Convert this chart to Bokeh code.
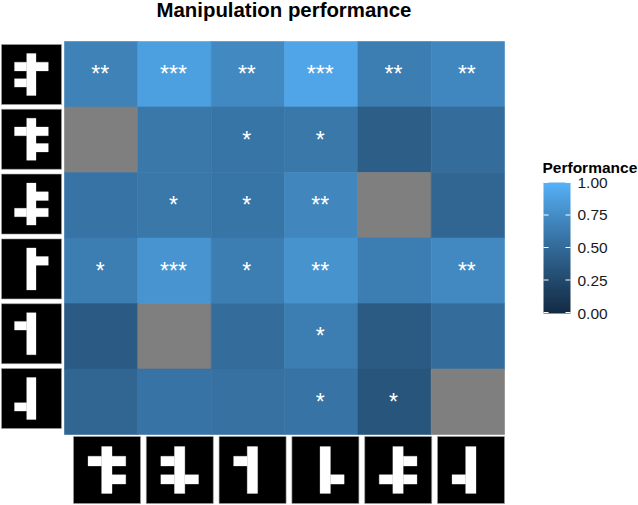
from bokeh.plotting import figure
from bokeh.embed import file_html
from bokeh.resources import INLINE
from bokeh.models import (ColumnDataSource, LinearColorMapper, ColorBar, FixedTicker,
                          NumeralTickFormatter, Range1d)
from bokeh.transform import transform
from bokeh.core.properties import value

nan = float("nan")

title = "Manipulation performance"
legend_title = "Performance"
legend_ticks = [0.0, 0.25, 0.5, 0.75, 1.0]

perf_r1 = [0.67, 0.88, 0.72, 0.92, 0.64, 0.71]
perf_r2 = [nan, 0.60, 0.58, 0.60, 0.41, 0.52]
perf_r3 = [0.57, 0.60, 0.58, 0.70, nan, 0.47]
perf_r4 = [0.64, 0.80, 0.64, 0.79, 0.64, 0.72]
perf_r5 = [0.39, nan, 0.52, 0.64, 0.38, 0.52]
perf_r6 = [0.47, 0.57, 0.55, 0.57, 0.34, nan]
perf = [perf_r1, perf_r2, perf_r3, perf_r4, perf_r5, perf_r6]

stars_r1 = ["**", "***", "**", "***", "**", "**"]
stars_r2 = ["", "", "*", "*", "", ""]
stars_r3 = ["", "*", "*", "**", "", ""]
stars_r4 = ["*", "***", "*", "**", "", "**"]
stars_r5 = ["", "", "", "*", "", ""]
stars_r6 = ["", "", "", "*", "*", ""]
stars = [stars_r1, stars_r2, stars_r3, stars_r4, stars_r5, stars_r6]

# glyph icons: (upper arm, lower arm), each one of "", "L", "R", "LR"
left_icons = [("LR", "L"), ("LR", "R"), ("R", "LR"), ("R", ""), ("L", ""), ("", "L")]
bottom_icons = [("LR", "R"), ("L", "LR"), ("L", ""), ("", "R"), ("R", "LR"), ("", "L")]

# ---- layout (page pixels)
W, H = 638, 505
SHIFT = 7            # figure sits this far above the page top, so the title can rise
TOP = 33             # frame top inside the figure
X0, X1, Y0, Y1 = 64.0, 504.0, 41.0, 434.0
CW, CH = (X1 - X0) / 6, (Y1 - Y0) / 6
def ux(px): return (px - X0) / CW
def uy(py): return (py - Y0) / CH


def lab_pal(c0, c1, n=256):
    def to_lab(c):
        rgb = [int(c[i:i + 2], 16) / 255 for i in (1, 3, 5)]
        r, g, b = [((v + .055) / 1.055) ** 2.4 if v > .04045 else v / 12.92 for v in rgb]
        X = (.4124 * r + .3576 * g + .1805 * b) / .95047
        Y = .2126 * r + .7152 * g + .0722 * b
        Z = (.0193 * r + .1192 * g + .9505 * b) / 1.08883
        f = lambda t: t ** (1 / 3) if t > .008856 else 7.787 * t + 16 / 116
        return 116 * f(Y) - 16, 500 * (f(X) - f(Y)), 200 * (f(Y) - f(Z))
    def to_hex(L, a, b):
        fy = (L + 16) / 116
        fx, fz = fy + a / 500, fy - b / 200
        g = lambda t: t ** 3 if t ** 3 > .008856 else (t - 16 / 116) / 7.787
        X, Y, Z = g(fx) * .95047, g(fy), g(fz) * 1.08883
        r = 3.2406 * X - 1.5372 * Y - .4986 * Z
        gg = -.9689 * X + 1.8758 * Y + .0415 * Z
        bb = .0557 * X - .2040 * Y + 1.0570 * Z
        out = []
        for v in (r, gg, bb):
            v = max(0, min(1, v))
            v = 1.055 * v ** (1 / 2.4) - .055 if v > .0031308 else 12.92 * v
            out.append(round(v * 255))
        return "#%02x%02x%02x" % tuple(out)
    A, B = to_lab(c0), to_lab(c1)
    return [to_hex(*[A[k] + (B[k] - A[k]) * i / (n - 1) for k in range(3)]) for i in range(n)]


palette = lab_pal("#132B43", "#56B1F7")
mapper = LinearColorMapper(palette=palette, low=0, high=1, nan_color="#7F7F7F")

p = figure(width=W, height=H + SHIFT, output_backend="svg", toolbar_location=None,
           x_range=Range1d(ux(0), ux(W)), y_range=Range1d(uy(H), uy(TOP - SHIFT)),
           min_border_left=0, min_border_right=0, min_border_bottom=0, min_border_top=TOP,
           x_axis_type=None, y_axis_type=None, title=title, margin=(-SHIFT, 0, 0, 0))
p.grid.visible = False
p.outline_line_color = None
p.background_fill_color = "white"
p.border_fill_color = "white"
p.title.align = "left"
p.title.offset = 156
p.title.standoff = 8
p.title.vertical_align = "top"
p.title.text_font = "Liberation Sans"
p.title.text_font_style = "bold"
p.title.text_font_size = "20.4px"
p.title.text_color = "#000000"

xs, ys, vs, ss = [], [], [], []
for r in range(6):
    for c in range(6):
        xs.append(c + .5); ys.append(r + .5); vs.append(perf[r][c]); ss.append(stars[r][c])
src = ColumnDataSource(dict(x=xs, y=ys, v=vs, s=ss))
p.rect("x", "y", width=1, height=1, source=src, fill_color=transform("v", mapper),
       line_color=transform("v", mapper), line_width=0.6)
p.text("x", "y", text="s", source=src, text_color="white", text_align="center",
       text_baseline="middle", text_font=value("Liberation Sans"), text_font_size="23px",
       x_offset=-1)


def icon_rects(arms, cx, cy, size):
    u, l = arms
    bl, bt, br, bb = [], [], [], []
    def add(a, b, c, d):
        bl.append(cx + (a - .5) * size); br.append(cx + (c - .5) * size)
        bt.append(cy + (b - .5) * size); bb.append(cy + (d - .5) * size)
    add(.42, .15, .575, .85)
    for code, (t, b_) in ((u, (.295, .44)), (l, (.57, .71))):
        if "L" in code:
            add(.217, t, .42, b_)
        if "R" in code:
            add(.575, t, .78, b_)
    return bl, bt, br, bb


def draw_icons(icons, centers):
    blk = dict(l=[], r=[], t=[], b=[])
    wht = dict(l=[], r=[], t=[], b=[])
    for arms, (cx, cy, s) in zip(icons, centers):
        blk["l"].append(ux(cx - s / 2)); blk["r"].append(ux(cx + s / 2))
        blk["t"].append(uy(cy - s / 2)); blk["b"].append(uy(cy + s / 2))
        a, b, c, d = icon_rects(arms, cx, cy, s)
        wht["l"] += [ux(v) for v in a]; wht["t"] += [uy(v) for v in b]
        wht["r"] += [ux(v) for v in c]; wht["b"] += [uy(v) for v in d]
    p.quad(left="l", right="r", top="t", bottom="b", source=ColumnDataSource(blk),
           fill_color="black", line_color="#a0a0a0", line_width=0.6)
    p.quad(left="l", right="r", top="t", bottom="b", source=ColumnDataSource(wht),
           fill_color="white", line_color="white", line_width=0.3)


draw_icons(left_icons, [(31, 74 + 64.8 * i, 60) for i in range(6)])
draw_icons(bottom_icons, [(106.5 + 72.8 * i, 469.5, 67) for i in range(6)])

cb = ColorBar(color_mapper=mapper, ticker=FixedTicker(ticks=legend_ticks),
              formatter=NumeralTickFormatter(format="0.00"),
              major_label_text_font="Liberation Sans", major_label_text_font_size="15.5px",
              major_label_text_color="#1a1a1a", label_standoff=7,
              major_tick_line_color=None, minor_tick_line_color=None, bar_line_color=None,
              background_fill_color=None, border_line_color=None,
              width=27, height=131, padding=0, margin=0,
              location=(543, H - 313))
p.add_layout(cb, "center")
# ggplot-style white ticks on both sides of the bar
tk_y = [uy(312 - 130 * v) for v in legend_ticks]
p.segment(x0=[ux(543)] * 5, x1=[ux(548)] * 5, y0=tk_y, y1=tk_y, line_color="white",
          line_width=1, level="overlay")
p.segment(x0=[ux(565)] * 5, x1=[ux(570)] * 5, y0=tk_y, y1=tk_y, line_color="white",
          line_width=1, level="overlay")
p.text(x=[ux(542)], y=[uy(167)], text=[legend_title], text_color="#000000",
       text_align="left", text_baseline="middle", text_font=value("Liberation Sans"),
       text_font_style="bold", text_font_size="15.5px")

open("out.html", "w").write(file_html(p, INLINE))
